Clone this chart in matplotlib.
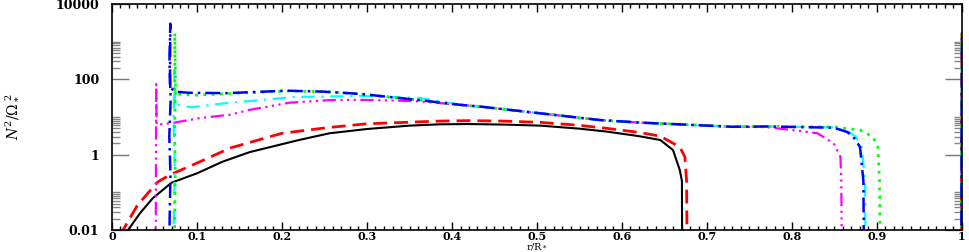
import numpy as np
import matplotlib
matplotlib.use('Agg')
import matplotlib.pyplot as plt
from matplotlib.ticker import FixedLocator, NullFormatter

# data, r/R* vs N^2/Omega*^2
r_black = [0.016, 0.019, 0.033, 0.048, 0.07, 0.1, 0.13, 0.162, 0.22, 0.256, 0.3, 0.35, 0.386, 0.42,
           0.46, 0.504, 0.55, 0.582, 0.62, 0.645, 0.66, 0.668, 0.6705, 0.671, 0.999, 1.0]
v_black = [0.007, 0.01, 0.028, 0.07, 0.18, 0.32, 0.65, 1.17, 2.45, 3.7, 4.8, 5.9, 6.4, 6.5,
           6.3, 5.9, 4.9, 4.1, 3.1, 2.45, 1.33, 0.39, 0.2, 1e-4, 1e-4, 1700]

r_red = [0.01, 0.013, 0.03, 0.054, 0.068, 0.1, 0.139, 0.2, 0.256, 0.3, 0.386, 0.42, 0.46,
         0.504, 0.55, 0.582, 0.62, 0.645, 0.668, 0.674, 0.676, 0.677, 0.999, 1.0]
v_red = [0.007, 0.01, 0.046, 0.19, 0.29, 0.6, 1.5, 3.7, 5.3, 6.6, 7.8, 8.0, 7.8,
         7.2, 6.0, 5.0, 3.9, 3.1, 1.6, 0.87, 0.2, 1e-4, 1e-4, 1700]

r_blue = [0.067, 0.0678, 0.0688, 0.0674, 0.069, 0.0676, 0.0686, 0.0682, 0.075, 0.09, 0.135, 0.206,
          0.25, 0.292, 0.362, 0.41, 0.436, 0.504, 0.574, 0.621, 0.68, 0.73, 0.77, 0.849, 0.865,
          0.872, 0.88, 0.884, 0.885, 0.999, 1.0]
v_blue = [1e-4, 0.02, 0.3, 3, 30, 300, 3000, 60, 47, 44, 43, 50,
          47, 41, 28, 21, 18.6, 12.5, 8.3, 7.1, 6.2, 5.5, 5.6, 5.2, 4.0,
          3.0, 1.6, 0.2, 1e-4, 1e-4, 1700]

r_green = [0.0725, 0.0738, 0.0745, 0.0736, 0.0748, 0.0738, 0.074, 0.08, 0.1, 0.139, 0.206,
           0.25, 0.292, 0.362, 0.41, 0.436, 0.504, 0.574, 0.621, 0.68, 0.73, 0.77, 0.85, 0.88,
           0.895, 0.901, 0.903, 0.904, 0.999, 1.0]
v_green = [1e-4, 0.02, 0.3, 5, 80, 1700, 45, 40, 38, 42, 49,
           47, 41, 28, 21, 18.6, 12.5, 8.3, 7.1, 6.2, 5.5, 5.6, 5.4, 4.5,
           3.0, 1.6, 0.2, 1e-4, 1e-4, 1700]

r_cyan = [0.0715, 0.0728, 0.0738, 0.0725, 0.0735, 0.074, 0.08, 0.092, 0.135, 0.174, 0.213,
          0.292, 0.362, 0.41, 0.436, 0.504, 0.574, 0.621, 0.68, 0.73, 0.77, 0.85, 0.867,
          0.875, 0.882, 0.886, 0.887, 0.999, 1.0]
v_cyan = [1e-4, 0.02, 0.5, 10, 180, 20, 21, 18, 23.5, 28, 34,
          36, 32, 21, 18.6, 12.5, 8.3, 7.1, 6.2, 5.5, 5.6, 5.3, 4.0,
          3.0, 1.6, 0.2, 1e-4, 1e-4, 1700]

r_magenta = [0.0505, 0.0515, 0.052, 0.0525, 0.053, 0.06, 0.072, 0.104, 0.139, 0.162, 0.209,
             0.256, 0.292, 0.33, 0.362, 0.41, 0.436, 0.504, 0.574, 0.621, 0.68, 0.73, 0.77,
             0.80, 0.83, 0.849, 0.857, 0.858, 0.859, 0.999, 1.0]
v_magenta = [1e-4, 0.01, 75, 6.2, 6.3, 6.5, 7.0, 9.4, 11.5, 15.5, 24,
             28, 28.5, 27.5, 26, 21, 18.6, 12.5, 8.3, 7.1, 6.2, 5.5, 5.4,
             4.5, 3.7, 2.0, 0.87, 0.2, 1e-4, 1e-4, 1700]

xticks = [0, 0.1, 0.2, 0.3, 0.4, 0.5, 0.6, 0.7, 0.8, 0.9, 1.0]
xticklabels = ['0', '0.1', '0.2', '0.3', '0.4', '0.5', '0.6', '0.7', '0.8', '0.9', '1']
yticks = [0.01, 1, 100, 10000]
yticklabels = ['0.01', '1', '100', '10000']

plt.rcParams['font.family'] = ['DejaVu Serif']
plt.rcParams['mathtext.fontset'] = 'dejavuserif'

fig = plt.figure(figsize=(9.7, 2.52), dpi=100)
ax = fig.add_axes([112/970, 1-230/252, 850/970, 226/252])

ax.plot(r_black, v_black, color='black', lw=1.5, ls='-')
ax.plot(r_red, v_red, color='#ff0000', lw=2.0, ls=(0, (5, 2.5)))
ax.plot(r_magenta, v_magenta, color='#ff00ff', lw=1.6, ls=(0, (6, 2, 1, 2, 1, 2, 1, 2)))
ax.plot(r_cyan, v_cyan, color='#00ffff', lw=1.6, ls=(0, (6, 3, 1, 3)))
ax.plot(r_green, v_green, color='#00ff00', lw=2.0, ls=(0, (1, 2)))
ax.plot(r_blue, v_blue, color='#0000ff', lw=1.8, ls=(0, (6, 2, 1, 2)))

ax.set_yscale('log')
ax.set_xlim(0, 1)
ax.set_ylim(0.01, 10000)

ax.set_xticks(xticks)
ax.set_xticklabels(xticklabels)
ax.xaxis.set_minor_locator(FixedLocator(np.arange(0, 1.001, 0.01)))
ax.tick_params(axis='x', which='major', direction='in', top=True, bottom=True,
               length=6, width=1, pad=0.5, labelsize=8)
ax.tick_params(axis='x', which='minor', direction='in', top=True, bottom=True,
               length=3, width=1)

ax.yaxis.set_major_locator(FixedLocator(yticks))
ax.set_yticklabels(yticklabels)
ymin = [k * 10.0**d for d in (-2, 0, 2) for k in range(2, 11)]
ax.yaxis.set_minor_locator(FixedLocator(ymin))
ax.yaxis.set_minor_formatter(NullFormatter())
ax.tick_params(axis='y', which='major', direction='in', left=True, right=True,
               length=12, width=1, color='#777777', pad=9, labelsize=9)
ax.tick_params(axis='y', which='minor', direction='in', left=True, right=True,
               length=6, width=1, color='#888888')

for lab in ax.get_xticklabels() + ax.get_yticklabels():
    lab.set_fontweight('bold')

for s in ax.spines.values():
    s.set_color('black')
    s.set_linewidth(1.2)

ax.set_xlabel(r'r/R$_*$', fontsize=7, va='bottom')
ax.xaxis.set_label_coords(0.5, -0.097)
ax.set_ylabel(r'$N^2/\Omega_*^{\ 2}$', fontsize=10)
ax.yaxis.set_label_coords(-0.108, 0.5)

fig.savefig('out.png', dpi=100)
